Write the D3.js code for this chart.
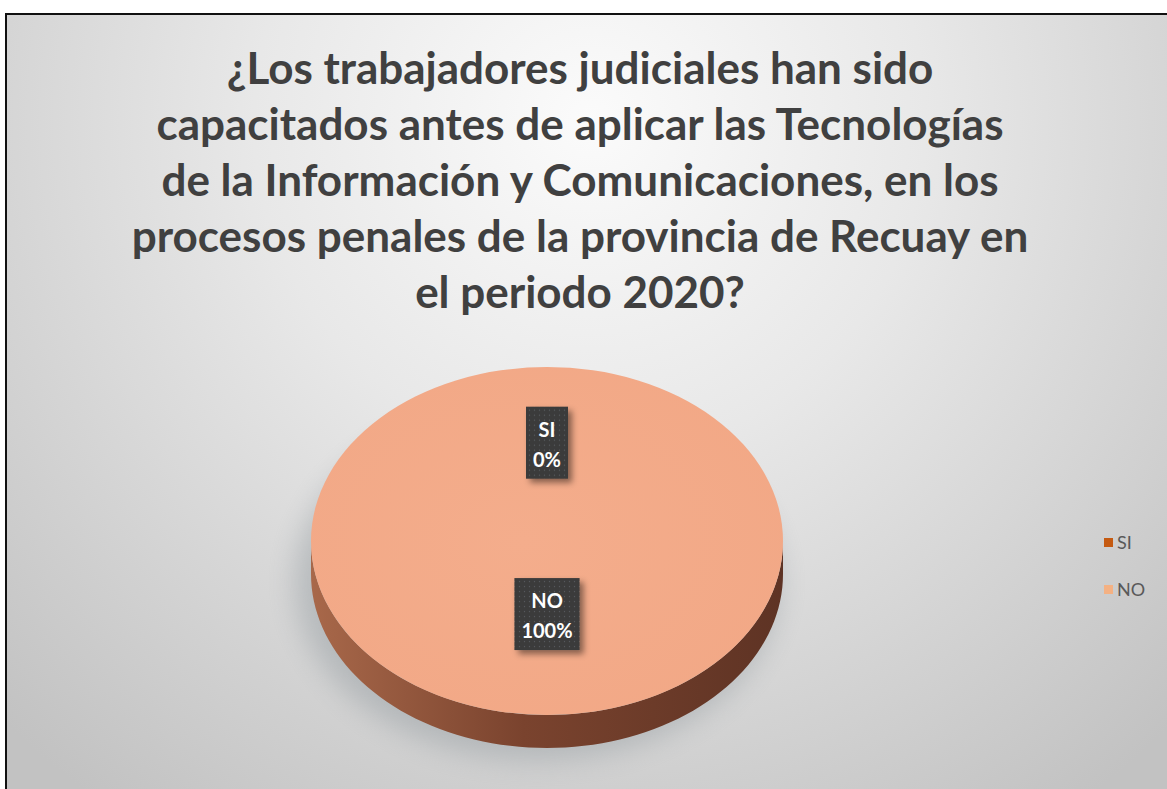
<!DOCTYPE html>
<html>
<head>
<meta charset="utf-8">
<script src="https://cdn.jsdelivr.net/npm/d3@7"></script>
<style>
  html, body { margin: 0; padding: 0; background: #ffffff; }
  svg { display: block; }
</style>
</head>
<body>
<svg id="chart" width="1167" height="789"></svg>
<script>
// ---- data ----
const categories = ["SI", "NO"];
const values = [0, 100];
const percentLabels = ["0%", "100%"];
const titleLines = [
  "¿Los trabajadores judiciales han sido",
  "capacitados antes de aplicar las Tecnologías",
  "de la Información y Comunicaciones, en los",
  "procesos penales de la provincia de Recuay en",
  "el periodo 2020?"
];

// ---- layout ----
const W = 1167, H = 789;
const svg = d3.select("#chart");
const defs = svg.append("defs");

const bg = defs.append("radialGradient").attr("id", "bg")
  .attr("gradientUnits", "userSpaceOnUse")
  .attr("cx", 590).attr("cy", 120).attr("r", 840);
bg.append("stop").attr("offset", 0).attr("stop-color", "#fbfbfb");
bg.append("stop").attr("offset", 0.4).attr("stop-color", "#e8e8e8");
bg.append("stop").attr("offset", 1).attr("stop-color", "#c2c2c2");

const sideGrad = defs.append("linearGradient").attr("id", "side")
  .attr("x1", 0).attr("x2", 1).attr("y1", 0).attr("y2", 0);
sideGrad.append("stop").attr("offset", 0).attr("stop-color", "#a8684a");
sideGrad.append("stop").attr("offset", 0.45).attr("stop-color", "#7a432e");
sideGrad.append("stop").attr("offset", 1).attr("stop-color", "#5e3324");

const faceGrad = defs.append("radialGradient").attr("id", "face")
  .attr("cx", "45%").attr("cy", "50%").attr("r", "60%");
faceGrad.append("stop").attr("offset", 0).attr("stop-color", "#f4ad8c");
faceGrad.append("stop").attr("offset", 1).attr("stop-color", "#f2a886");

const blur = defs.append("filter").attr("id", "blur")
  .attr("x", "-30%").attr("y", "-30%").attr("width", "160%").attr("height", "160%");
blur.append("feGaussianBlur").attr("stdDeviation", 14);

const lblShadow = defs.append("filter").attr("id", "lblShadow")
  .attr("x", "-30%").attr("y", "-30%").attr("width", "170%").attr("height", "170%");
lblShadow.append("feDropShadow").attr("dx", 4).attr("dy", 4).attr("stdDeviation", 3)
  .attr("flood-color", "#000").attr("flood-opacity", 0.45);

const dots = defs.append("pattern").attr("id", "dots")
  .attr("patternUnits", "userSpaceOnUse").attr("width", 5).attr("height", 5);
dots.append("rect").attr("width", 5).attr("height", 5).attr("fill", "#3a3a3a");
dots.append("circle").attr("cx", 2.5).attr("cy", 2.5).attr("r", 0.7).attr("fill", "#575b5e");

// background frame
svg.append("rect").attr("x", 6).attr("y", 14).attr("width", W).attr("height", H)
  .attr("fill", "url(#bg)").attr("stroke", "#111").attr("stroke-width", 2);

// title
const title = svg.append("text")
  .attr("text-anchor", "middle")
  .attr("font-family", "Lato, 'Open Sans', sans-serif")
  .attr("font-weight", 700)
  .attr("font-size", 44)
  .attr("fill", "#404040");
titleLines.forEach((t, i) => {
  title.append("tspan").attr("x", 580).attr("y", 84 + i * 56).text(t);
});

// pie geometry
const cx = 547, cy = 541, rx = 236, ry = 174, depth = 33;
const color = d3.scaleOrdinal().domain(categories).range(["#c55a11", "#f2a886"]);
const sideColor = d3.scaleOrdinal().domain(categories).range(["#7a3208", "url(#side)"]);

const pie = d3.pie().sort(null).value(d => d.value);
const data = categories.map((c, i) => ({ cat: c, value: values[i], pct: percentLabels[i] }));
const arcs = pie(data);

const arc = d3.arc().innerRadius(0).outerRadius(rx);

// shadow beneath the pie
svg.append("ellipse").attr("cx", cx - 10).attr("cy", cy + depth + 8)
  .attr("rx", rx + 6).attr("ry", ry + 4)
  .attr("fill", "#8e969b").attr("opacity", 0.45).attr("filter", "url(#blur)");

// point on ellipse for angle a (d3 convention: 0 at top, clockwise)
const ex = a => cx + rx * Math.sin(a);
const ey = a => cy - ry * Math.cos(a);

// side walls (only front half visible: angles PI/2 .. 3PI/2)
const sideG = svg.append("g");
arcs.forEach(d => {
  const a0 = Math.max(d.startAngle, Math.PI / 2);
  const a1 = Math.min(d.endAngle, 3 * Math.PI / 2);
  if (a1 <= a0) return;
  const n = 80;
  const angles = d3.range(n + 1).map(k => a0 + (a1 - a0) * k / n);
  let p = "M" + angles.map(a => [ex(a), ey(a)].join(",")).join("L");
  p += "L" + angles.slice().reverse().map(a => [ex(a), ey(a) + depth].join(",")).join("L") + "Z";
  sideG.append("path").attr("d", p).attr("fill", sideColor(d.data.cat));
});

// top face: d3.arc in a circle, squashed into an ellipse
const faceG = svg.append("g").attr("transform", `translate(${cx},${cy}) scale(1,${ry / rx})`);
faceG.selectAll("path").data(arcs).join("path")
  .attr("d", arc)
  .attr("fill", d => d.data.cat === "NO" ? "url(#face)" : color(d.data.cat));

// data labels
const labelRadius = { SI: 0.565, NO: 0.42 };
const labelG = svg.append("g");
arcs.forEach(d => {
  const mid = (d.startAngle + d.endAngle) / 2;
  const lx = cx + rx * labelRadius[d.data.cat] * Math.sin(mid);
  const ly = cy - ry * labelRadius[d.data.cat] * Math.cos(mid);
  const g = labelG.append("g").attr("transform", `translate(${lx},${ly})`);
  const txt = g.append("text")
    .attr("text-anchor", "middle")
    .attr("font-family", "Lato, 'Open Sans', sans-serif")
    .attr("font-weight", 700).attr("font-size", 20).attr("fill", "#ffffff");
  txt.append("tspan").attr("x", 0).attr("y", -6).text(d.data.cat);
  txt.append("tspan").attr("x", 0).attr("y", 24).text(d.data.pct);
  const bb = txt.node().getBBox();
  const padX = 7;
  g.insert("rect", "text")
    .attr("x", bb.x - padX).attr("y", -36)
    .attr("width", bb.width + 2 * padX).attr("height", 72)
    .attr("fill", "url(#dots)").attr("filter", "url(#lblShadow)");
});

// legend
const legend = svg.append("g").attr("transform", "translate(1104,538)");
categories.forEach((c, i) => {
  const g = legend.append("g").attr("transform", `translate(0,${i * 47})`);
  g.append("rect").attr("width", 9).attr("height", 9)
    .attr("fill", i === 0 ? color(c) : "#f4b183");
  g.append("text").attr("x", 13).attr("y", 10.5)
    .attr("font-family", "Lato, 'Open Sans', sans-serif")
    .attr("font-size", 18).attr("fill", "#595959").text(c);
});
</script>
</body>
</html>
